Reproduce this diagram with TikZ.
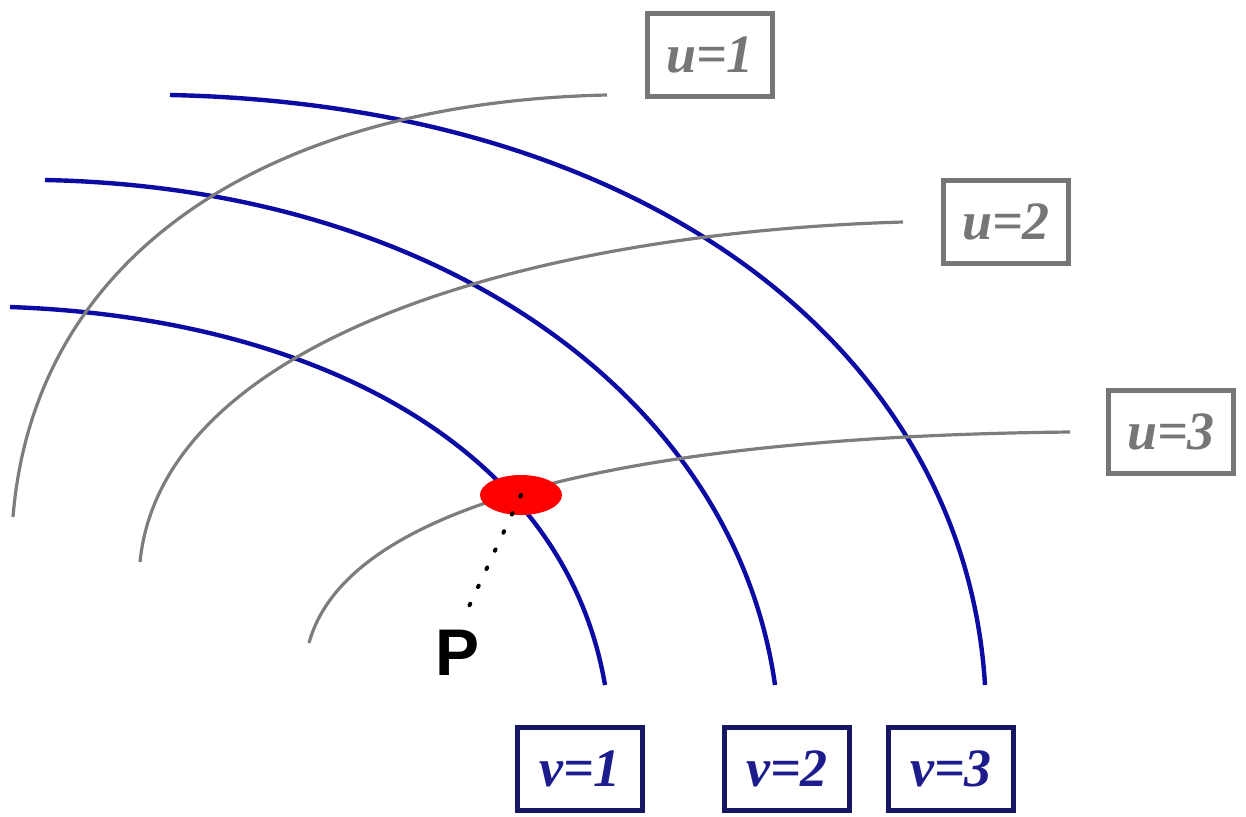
\documentclass[tikz,border=0pt]{standalone}
\usepackage{fontspec}
\setmainfont{Liberation Serif}
\setsansfont{Liberation Sans}
\usepackage{tikz}
\usetikzlibrary{shapes.geometric}
\definecolor{curveblue}{RGB}{12,12,165}
\definecolor{boxnavy}{RGB}{22,22,100}
\definecolor{textblue}{RGB}{28,28,140}
\definecolor{curvegray}{RGB}{125,125,125}
\definecolor{boxgray}{RGB}{118,118,118}

\begin{document}
\begin{tikzpicture}[x=0.5pt,y=-0.5pt,
  vline/.style={curveblue,line width=2.2pt},
  uline/.style={curvegray,line width=1.6pt},
  ubox/.style={draw=boxgray,text=boxgray,line width=2.8pt,minimum width=62.5pt,minimum height=41.5pt,inner sep=0pt,
    font=\fontsize{27}{27}\selectfont\bfseries\itshape},
  vbox/.style={ubox,draw=boxnavy,text=textblue}]
\useasboundingbox (0,0) rectangle (1246,816);
\draw[vline] (10,307) .. controls (320,318) and (565,450) .. (605,685);
\draw[vline] (45,180) .. controls (445,188) and (735,400) .. (775,685);
\draw[vline] (170,95) .. controls (655,105) and (965,355) .. (985,685);
\draw[uline] (13,517) .. controls (35,247) and (277,102) .. (607,95);
\draw[uline] (140,562) .. controls (162,342) and (523,233) .. (903,222);
\draw[uline] (309,643) .. controls (350,493) and (670,436) .. (1070,432);
\node[ubox] (u1) at (710,55) {u=1};
\node[ubox] (u2) at (1006,222) {u=2};
\node[ubox] (u3) at (1171,432) {u=3};
\node[vbox] (v1) at (580,769) {v=1};
\node[vbox] (v2) at (787,769) {v=2};
\node[vbox] (v3) at (951,769) {v=3};
\node[ellipse,fill=red,minimum width=41pt,minimum height=20pt,inner sep=0pt] (pt) at (521,495) {};
\node[font=\sffamily\bfseries\fontsize{33}{33}\selectfont,inner sep=0pt] (plabel) at (458,653) {P};
\draw[black,line width=2pt,line cap=round,dash pattern=on 0.8pt off 9.2pt,shorten >=10pt] (pt.center) -- (plabel.north);
\end{tikzpicture}
\end{document}
